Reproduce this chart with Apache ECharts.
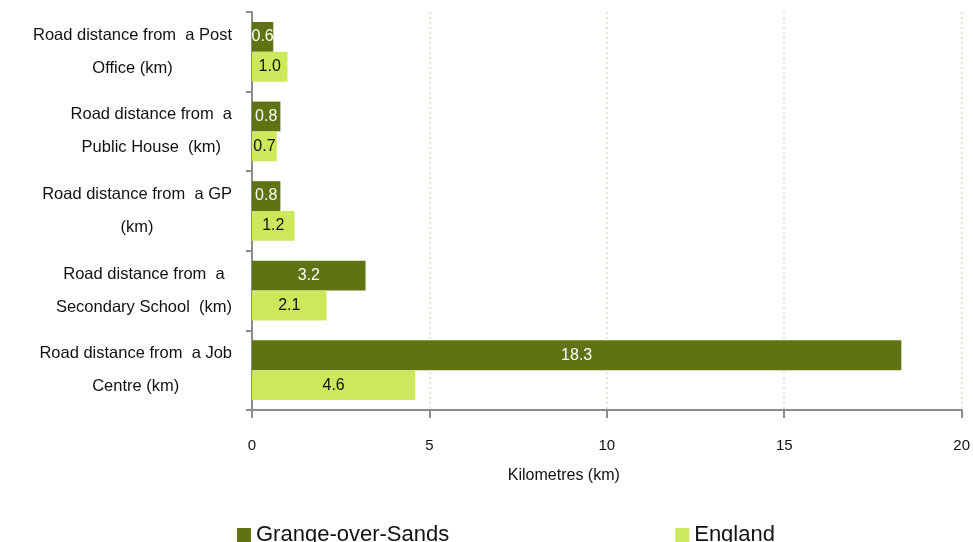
<!DOCTYPE html>
<html><head><meta charset="utf-8">
<script src="https://cdn.jsdelivr.net/npm/echarts@6/dist/echarts.min.js"></script>
<style>html,body{margin:0;padding:0;background:#fff}#c{width:973px;height:542px}</style>
</head><body><div id="c"></div>
<script>
const categories = [
  "Road distance from  a Post\nOffice (km)",
  "Road distance from  a\nPublic House  (km)",
  "Road distance from  a GP\n(km)",
  "Road distance from  a\nSecondary School  (km)",
  "Road distance from  a Job\nCentre (km)"
];
const grangeValues = [0.6, 0.8, 0.8, 3.2, 18.3];
const englandValues = [1.0, 0.7, 1.2, 2.1, 4.6];
const seriesNames = ["Grange-over-Sands", "England"];
const xTicks = { min: 0, max: 20, interval: 5 };

const chart = echarts.init(document.getElementById('c'));
const font = '"Liberation Sans", Arial, sans-serif';
chart.setOption({
  animation: false,
  textStyle: { fontFamily: font },
  grid: { left: 252, right: 11, top: 12, bottom: 132, containLabel: false },
  legend: {
    left: 232, top: 519, itemWidth: 14, itemHeight: 14, itemGap: 226,
    icon: 'rect',
    textStyle: { fontSize: 22, color: '#111', fontFamily: font },
    data: seriesNames
  },
  xAxis: {
    type: 'value', min: xTicks.min, max: xTicks.max, interval: xTicks.interval,
    name: 'Kilometres (km)', nameLocation: 'middle', nameGap: 58,
    nameTextStyle: { fontSize: 16, color: '#111', padding: [0, 86, 0, 0] },
    axisLine: { show: true, lineStyle: { color: '#8c8c8c', width: 2 } },
    axisTick: { show: true, length: 8, lineStyle: { color: '#8c8c8c', width: 2 } },
    axisLabel: { fontSize: 15, color: '#111', margin: 28 },
    splitLine: { show: true, lineStyle: { color: '#dcdcc4', type: [2, 3], width: 1.5 } }
  },
  yAxis: {
    type: 'category', data: categories, inverse: true,
    axisLine: { show: true, lineStyle: { color: '#8c8c8c', width: 2 } },
    axisTick: { show: true, length: 6, lineStyle: { color: '#8c8c8c', width: 2 } },
    axisLabel: {
      margin: 20, color: '#111',
      formatter: v => v.split('\n').map(l => '{c|' + l + '}').join('\n'),
      rich: { c: { align: 'center', fontSize: 16.5, lineHeight: 33, color: '#111', fontFamily: font } }
    }
  },
  series: [
    {
      name: seriesNames[0], type: 'bar', data: grangeValues,
      barGap: '0%', barCategoryGap: '25%',
      itemStyle: { color: '#5e7413' },
      label: { show: true, position: 'inside', color: '#fff', fontSize: 16, formatter: p => p.value.toFixed(1) }
    },
    {
      name: seriesNames[1], type: 'bar', data: englandValues,
      barGap: '0%', barCategoryGap: '25%',
      itemStyle: { color: '#cbe95a' },
      label: { show: true, position: 'inside', color: '#111', fontSize: 16, formatter: p => p.value.toFixed(1) }
    }
  ]
});
</script></body></html>
